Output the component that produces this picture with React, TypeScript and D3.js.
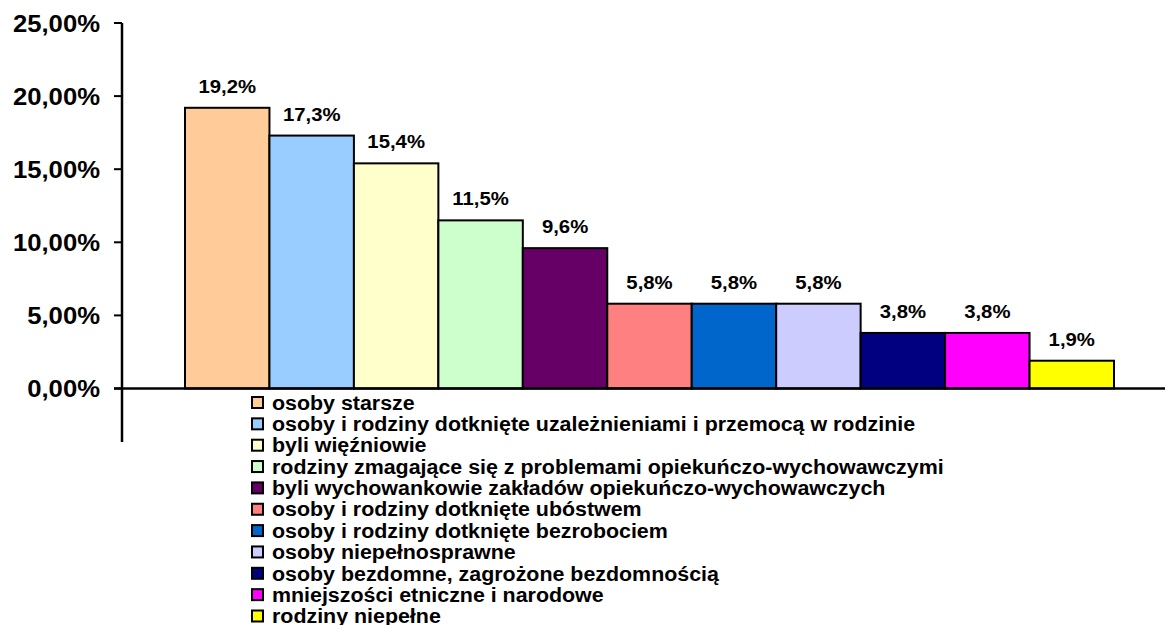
import React from 'react';
import * as d3 from 'd3';

const categories = [
  'osoby starsze',
  'osoby i rodziny dotknięte uzależnieniami i przemocą w rodzinie',
  'byli więźniowie',
  'rodziny zmagające się z problemami opiekuńczo-wychowawczymi',
  'byli wychowankowie zakładów opiekuńczo-wychowawczych',
  'osoby i rodziny dotknięte ubóstwem',
  'osoby i rodziny dotknięte bezrobociem',
  'osoby niepełnosprawne',
  'osoby bezdomne, zagrożone bezdomnością',
  'mniejszości etniczne i narodowe',
  'rodziny niepełne',
];
const values = [19.2, 17.3, 15.4, 11.5, 9.6, 5.8, 5.8, 5.8, 3.8, 3.8, 1.9];
const colors = [
  '#FFCC99', '#99CCFF', '#FFFFCC', '#CCFFCC', '#660066', '#FF8080',
  '#0066CC', '#CCCCFF', '#000080', '#FF00FF', '#FFFF00',
];
const yTicks = [0, 5, 10, 15, 20, 25];

const W = 1165;
const H = 625;
const font = 'Liberation Sans, Arial, sans-serif';
// the original picture is slightly stretched horizontally
const sx = 1.07;

export default function App() {
  const axisX = 122;
  const y = d3.scaleLinear().domain([0, 25]).range([388.5, 23]);
  const x = d3.scaleBand<number>().domain(d3.range(values.length)).range([185, 1114]).padding(0);
  const fmt = (v: number) => v.toFixed(1).replace('.', ',') + '%';
  const tickFmt = (v: number) => v.toFixed(2).replace('.', ',') + '%';
  const legendY = d3.scaleLinear().domain([0, categories.length - 1]).range([402.5, 616]);

  return (
    <svg width={W} height={H} style={{ position: 'absolute', left: 0, top: 0, background: '#fff' }}
      fontFamily={font} fontWeight="bold">
      {values.map((v, i) => (
        <g key={i}>
          <rect x={x(i)} y={y(v)} width={x.bandwidth()} height={y(0) - y(v)}
            fill={colors[i]} stroke="#000" strokeWidth={2} />
          <g transform={`translate(${(x(i) as number) + x.bandwidth() / 2},${y(v) - 15}) scale(${sx},1)`}>
            <text textAnchor="middle" fontSize={19}>{fmt(v)}</text>
          </g>
        </g>
      ))}
      <line x1={axisX} x2={axisX} y1={y(25)} y2={442} stroke="#000" strokeWidth={2.5} />
      <line x1={114} x2={W} y1={y(0)} y2={y(0)} stroke="#000" strokeWidth={2.5} />
      {yTicks.map(t => (
        <g key={t}>
          <line x1={114} x2={axisX} y1={y(t)} y2={y(t)} stroke="#000" strokeWidth={2} />
          <g transform={`translate(100,${y(t)}) scale(${sx},1)`}>
            <text dy="0.36em" textAnchor="end" fontSize={24}>{tickFmt(t)}</text>
          </g>
        </g>
      ))}
      {categories.map((c, i) => (
        <g key={c} transform={`translate(252,${legendY(i)})`}>
          <rect x={0} y={-5.5} width={11} height={11} fill={colors[i]} stroke="#000" strokeWidth={2} />
          <g transform={`translate(20,0) scale(${sx},1)`}>
            <text dy="0.36em" fontSize={20}>{c}</text>
          </g>
        </g>
      ))}
    </svg>
  );
}
